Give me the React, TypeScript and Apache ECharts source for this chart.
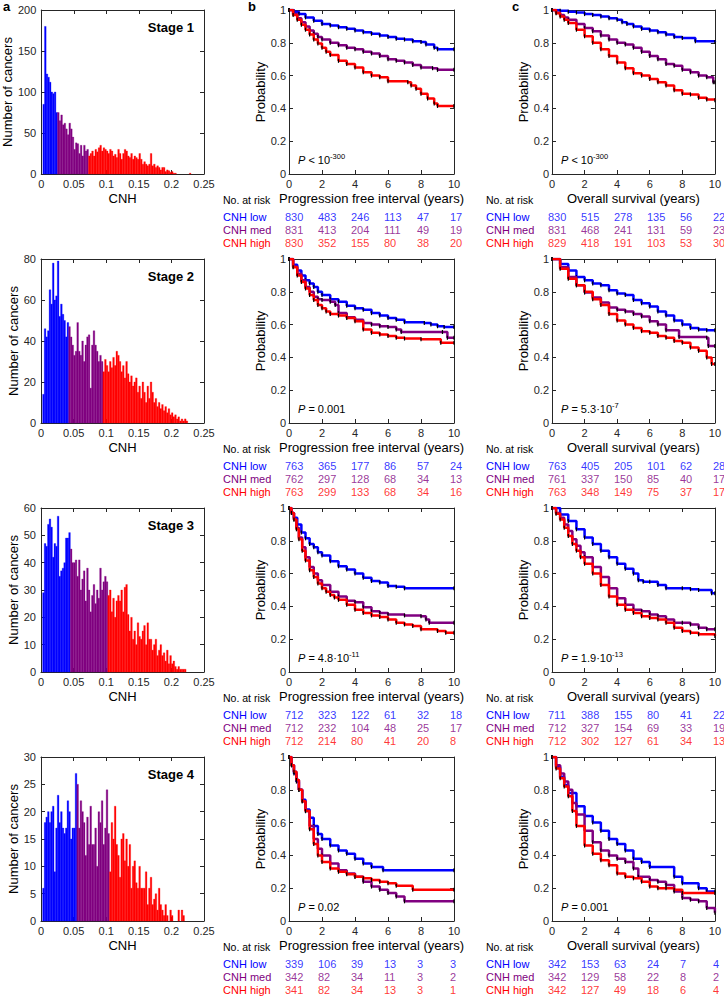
import React, { useEffect, useRef } from 'react';
import * as echarts from 'echarts';

// ---------------- data ----------------
const BIN_WIDTH = 0.0025;
const stageLabels = ['Stage 1', 'Stage 2', 'Stage 3', 'Stage 4'];
const histYMax = [200, 80, 60, 30];
const histYInterval = [50, 20, 10, 5];
const cnhMax = 0.25;
const cnhInterval = 0.05;

const hist1Counts = [
  0, 85, 180, 122, 118, 112, 100, 98, 100, 75,
  75, 65, 72, 60, 62, 55, 48, 62, 55, 45,
  30, 38, 37, 25, 35, 22, 35, 28, 30, 22,
  25, 28, 22, 30, 27, 32, 35, 28, 32, 30,
  28, 25, 30, 28, 22, 24, 20, 30, 25, 18,
  25, 30, 28, 22, 20, 25, 18, 22, 20, 18,
  25, 18, 12, 15, 12, 10, 12, 25, 10, 12,
  8, 10, 8, 5, 8, 8, 3, 5, 4, 2,
  3, 1, 1, 0, 0, 0, 0, 0, 0, 0,
  0, 1,
];
const hist1Cuts = [10, 29];

const hist2Counts = [
  0, 14, 46, 42, 45, 65, 58, 78, 60, 62,
  79, 52, 58, 53, 50, 42, 49, 47, 42, 38,
  33, 35, 49, 35, 33, 40, 30, 38, 42, 43,
  17, 38, 45, 38, 35, 30, 33, 30, 25, 31,
  28, 25, 30, 27, 32, 28, 35, 33, 30, 25,
  28, 22, 30, 24, 20, 23, 18, 20, 22, 15,
  18, 12, 20, 15, 10, 18, 12, 20, 15, 10,
  12, 8, 10, 7, 9, 6, 8, 5, 7, 4,
  5, 3, 4, 2, 3, 1, 2, 1, 2, 1,
];
const hist2Cuts = [17, 38];

const hist3Counts = [
  0, 29, 47, 46, 54, 56, 53, 42, 47, 46,
  57, 35, 37, 38, 40, 49, 49, 51, 45, 40,
  40, 41, 35, 41, 30, 34, 37, 26, 38, 30,
  22, 28, 32, 25, 30, 27, 38, 30, 33, 35,
  33, 28, 30, 22, 27, 20, 26, 28, 26, 30,
  22, 31, 32, 21, 15, 20, 12, 15, 10, 18,
  13, 12, 15, 17, 10, 18, 12, 12, 8, 10,
  12, 6, 8, 10, 6, 7, 4, 8, 3, 6,
  3, 4, 2, 1, 2, 1, 1, 1, 1,
];
const hist3Cuts = [18, 41];

const hist4Counts = [
  0, 6, 18, 19, 20, 18, 20, 21, 9, 17,
  23, 18, 20, 17, 16, 17, 22, 20, 15, 17,
  17, 27, 25, 17, 22, 20, 18, 12, 19, 14,
  21, 14, 14, 17, 10, 20, 18, 22, 14, 17,
  24, 16, 9, 18, 15, 21, 14, 12, 8, 15,
  16, 11, 15, 10, 14, 6, 10, 11, 7, 6,
  10, 6, 6, 6, 9, 3, 6, 8, 3, 4,
  5, 2, 6, 3, 2, 1, 3, 1, 0, 2,
  1, 0, 0, 0, 2, 0, 2, 1,
];
const hist4Cuts = [22, 42];

const histCounts = [hist1Counts, hist2Counts, hist3Counts, hist4Counts];
const histCuts = [hist1Cuts, hist2Cuts, hist3Cuts, hist4Cuts];

// Kaplan-Meier curves: [years, probability]
const pfi1Low = [[0,1],[0.3,0.99],[0.6,0.975],[1,0.955],[1.5,0.935],[2,0.915],[2.5,0.905],[3,0.895],[3.5,0.885],[4,0.875],[4.5,0.865],[5,0.855],[5.5,0.845],[6,0.835],[6.5,0.825],[7,0.82],[7.5,0.81],[8,0.805],[8.3,0.79],[8.8,0.77],[9,0.76],[10,0.76]];
const pfi1Med = [[0,1],[0.25,0.975],[0.5,0.95],[0.75,0.925],[1,0.9],[1.25,0.875],[1.5,0.855],[1.75,0.835],[2,0.82],[2.5,0.8],[3,0.785],[3.5,0.77],[4,0.76],[4.5,0.745],[5,0.735],[5.5,0.72],[6,0.7],[6.5,0.69],[7,0.68],[7.5,0.665],[8,0.65],[8.7,0.645],[9,0.635],[10,0.635]];
const pfi1High = [[0,1],[0.25,0.97],[0.5,0.94],[0.75,0.91],[1,0.88],[1.25,0.85],[1.5,0.82],[1.75,0.795],[2,0.77],[2.25,0.745],[2.5,0.725],[3,0.69],[3.5,0.67],[4,0.65],[4.5,0.62],[5,0.6],[5.5,0.59],[6,0.565],[7.2,0.56],[7.4,0.54],[7.7,0.52],[8,0.49],[8.4,0.46],[8.8,0.43],[9,0.415],[10,0.415]];

const os1Low = [[0,1],[0.5,0.995],[1,0.99],[1.5,0.985],[2,0.975],[2.5,0.97],[3,0.96],[3.5,0.95],[4,0.94],[4.3,0.925],[4.6,0.915],[5,0.9],[5.5,0.885],[6,0.875],[6.5,0.865],[7,0.85],[7.5,0.835],[8,0.83],[8.8,0.81],[10,0.805]];
const os1Med = [[0,1],[0.25,0.985],[0.5,0.97],[0.75,0.955],[1,0.94],[1.5,0.915],[2,0.89],[2.5,0.87],[3,0.845],[3.5,0.82],[4,0.8],[4.5,0.79],[5,0.77],[5.5,0.745],[6,0.72],[6.5,0.7],[7,0.67],[7.5,0.66],[8,0.635],[8.5,0.62],[9,0.6],[9.5,0.59],[9.9,0.56],[10,0.56]];
const os1High = [[0,1],[0.25,0.98],[0.5,0.96],[0.75,0.94],[1,0.92],[1.5,0.88],[2,0.84],[2.5,0.8],[3,0.76],[3.5,0.72],[4,0.68],[4.5,0.645],[5,0.615],[5.5,0.6],[6,0.58],[6.5,0.56],[7,0.54],[7.5,0.51],[8,0.49],[8.5,0.485],[9,0.465],[9.5,0.455],[10,0.45]];

const pfi2Low = [[0,1],[0.25,0.965],[0.5,0.93],[0.75,0.9],[1,0.87],[1.25,0.85],[1.5,0.83],[1.75,0.8],[2,0.78],[2.5,0.755],[3,0.74],[3.5,0.715],[4,0.7],[4.5,0.69],[5,0.67],[5.5,0.655],[6,0.64],[6.5,0.63],[7,0.615],[8.2,0.61],[8.6,0.6],[9,0.59],[9.4,0.585],[10,0.585]];
const pfi2Med = [[0,1],[0.25,0.955],[0.5,0.91],[0.75,0.87],[1,0.83],[1.25,0.8],[1.5,0.77],[1.75,0.755],[2,0.75],[2.5,0.74],[2.8,0.72],[3,0.67],[3.5,0.645],[4,0.63],[4.5,0.61],[5,0.6],[5.5,0.59],[6,0.585],[6.5,0.57],[6.8,0.555],[9.3,0.555],[9.6,0.52],[10,0.52]];
const pfi2High = [[0,1],[0.25,0.95],[0.5,0.9],[0.75,0.86],[1,0.82],[1.25,0.78],[1.5,0.75],[1.75,0.72],[2,0.7],[2.25,0.68],[2.5,0.665],[3,0.655],[3.5,0.64],[4,0.62],[4.5,0.57],[5,0.55],[5.5,0.54],[6,0.53],[6.5,0.52],[7,0.515],[8,0.51],[9.2,0.49],[10,0.49]];

const os2Low = [[0,1],[0.5,0.97],[1,0.93],[1.5,0.89],[2,0.87],[2.5,0.85],[3,0.84],[3.5,0.81],[4,0.79],[4.5,0.78],[5,0.75],[5.5,0.73],[6,0.71],[6.5,0.68],[7,0.655],[7.5,0.625],[8,0.6],[8.5,0.58],[9,0.57],[9.5,0.565],[10,0.565]];
const os2Med = [[0,1],[0.5,0.95],[1,0.89],[1.5,0.84],[2,0.795],[2.5,0.765],[3,0.735],[3.5,0.705],[4,0.69],[4.5,0.68],[5,0.665],[5.5,0.65],[6,0.62],[6.5,0.6],[7,0.565],[7.8,0.525],[9.5,0.52],[9.6,0.47],[10,0.47]];
const os2High = [[0,1],[0.5,0.94],[1,0.88],[1.5,0.84],[2,0.8],[2.5,0.755],[3,0.72],[3.5,0.665],[4,0.625],[4.5,0.6],[5,0.58],[5.5,0.56],[6,0.55],[6.5,0.53],[7,0.52],[7.5,0.5],[8,0.49],[8.5,0.46],[9,0.44],[9.5,0.4],[9.8,0.36],[10,0.36]];

const pfi3Low = [[0,1],[0.15,0.97],[0.3,0.94],[0.5,0.9],[0.75,0.85],[1,0.815],[1.25,0.78],[1.5,0.76],[1.75,0.73],[2,0.71],[2.5,0.675],[3,0.645],[3.5,0.625],[4,0.6],[4.5,0.575],[5,0.555],[5.5,0.545],[6,0.525],[6.5,0.52],[7,0.51],[10,0.51]];
const pfi3Med = [[0,1],[0.15,0.97],[0.3,0.93],[0.45,0.88],[0.6,0.82],[0.8,0.76],[1,0.7],[1.25,0.64],[1.5,0.6],[1.75,0.56],[2,0.53],[2.5,0.49],[3,0.46],[3.5,0.435],[4,0.425],[4.5,0.395],[5,0.37],[5.5,0.36],[6,0.35],[7,0.345],[8,0.34],[8.3,0.32],[8.5,0.3],[10,0.3]];
const pfi3High = [[0,1],[0.15,0.97],[0.3,0.93],[0.45,0.87],[0.6,0.81],[0.8,0.74],[1,0.68],[1.25,0.62],[1.5,0.58],[1.75,0.54],[2,0.51],[2.25,0.49],[2.5,0.47],[2.75,0.455],[3,0.44],[3.5,0.41],[4,0.38],[4.5,0.36],[5,0.345],[5.5,0.335],[6,0.32],[6.5,0.3],[7,0.29],[7.5,0.28],[8,0.26],[9,0.25],[9.5,0.24],[10,0.24]];

const os3Low = [[0,1],[0.5,0.96],[1,0.92],[1.5,0.87],[2,0.82],[2.5,0.78],[3,0.74],[3.5,0.7],[4,0.66],[4.5,0.63],[5,0.6],[5.3,0.56],[5.6,0.55],[6,0.55],[6.5,0.53],[7,0.51],[8,0.51],[8.5,0.505],[9,0.5],[9.8,0.48],[10,0.48]];
const os3Med = [[0,1],[0.25,0.97],[0.5,0.94],[0.75,0.9],[1,0.86],[1.25,0.81],[1.5,0.77],[1.75,0.73],[2,0.7],[2.5,0.64],[3,0.58],[3.5,0.51],[4,0.45],[4.5,0.41],[5,0.38],[5.5,0.37],[6,0.35],[6.5,0.34],[7,0.32],[7.5,0.3],[8,0.3],[8.5,0.29],[9,0.27],[9.5,0.26],[10,0.26]];
const os3High = [[0,1],[0.25,0.965],[0.5,0.93],[0.75,0.88],[1,0.83],[1.25,0.78],[1.5,0.74],[1.75,0.7],[2,0.66],[2.5,0.6],[3,0.53],[3.5,0.46],[4,0.41],[4.5,0.38],[5,0.36],[5.5,0.34],[6,0.33],[6.5,0.32],[7,0.3],[7.5,0.27],[8,0.25],[8.5,0.24],[9,0.23],[10,0.22]];

const pfi4Low = [[0,1],[0.15,0.95],[0.3,0.9],[0.45,0.85],[0.6,0.8],[0.8,0.74],[1,0.68],[1.25,0.63],[1.5,0.58],[1.75,0.53],[2,0.5],[2.5,0.46],[3,0.43],[3.5,0.41],[4,0.38],[4.5,0.35],[5,0.33],[5.7,0.31],[10,0.31]];
const pfi4Med = [[0,1],[0.15,0.95],[0.3,0.91],[0.45,0.86],[0.6,0.8],[0.8,0.73],[1,0.67],[1.25,0.58],[1.5,0.5],[1.75,0.44],[2,0.4],[2.5,0.35],[3,0.31],[3.5,0.29],[4,0.27],[4.5,0.24],[5,0.21],[5.5,0.19],[6,0.17],[6.5,0.15],[7,0.12],[10,0.12]];
const pfi4High = [[0,1],[0.15,0.95],[0.3,0.91],[0.45,0.86],[0.6,0.8],[0.8,0.73],[1,0.67],[1.25,0.56],[1.5,0.47],[1.75,0.4],[2,0.36],[2.5,0.32],[3,0.3],[3.5,0.285],[4,0.27],[4.5,0.26],[5,0.25],[5.5,0.24],[6,0.23],[6.5,0.215],[7.5,0.19],[10,0.19]];

const os4Low = [[0,1],[0.25,0.94],[0.5,0.88],[0.75,0.83],[1,0.78],[1.5,0.7],[2,0.64],[2.5,0.6],[3,0.55],[3.5,0.5],[4,0.47],[4.5,0.43],[5,0.38],[5.5,0.36],[6,0.33],[7.5,0.27],[8,0.23],[9,0.2],[9.5,0.18],[10,0.18]];
const os4Med = [[0,1],[0.25,0.95],[0.5,0.9],[0.75,0.85],[1,0.8],[1.25,0.72],[1.5,0.65],[2,0.55],[2.5,0.48],[3,0.43],[3.5,0.4],[4,0.38],[4.5,0.36],[5,0.32],[5.3,0.27],[6,0.25],[6.5,0.24],[7,0.22],[7.5,0.18],[8,0.14],[8.5,0.13],[9,0.12],[9.5,0.08],[10,0.05]];
const os4High = [[0,1],[0.25,0.93],[0.5,0.87],[0.75,0.82],[1,0.76],[1.25,0.67],[1.5,0.58],[2,0.46],[2.5,0.41],[3,0.37],[3.5,0.34],[4,0.29],[4.5,0.27],[5,0.26],[5.5,0.24],[6,0.21],[6.5,0.2],[7,0.2],[7.5,0.19],[8,0.17],[10,0.17]];

const pfiCurves = [
  [pfi1Low, pfi1Med, pfi1High],
  [pfi2Low, pfi2Med, pfi2High],
  [pfi3Low, pfi3Med, pfi3High],
  [pfi4Low, pfi4Med, pfi4High],
];
const osCurves = [
  [os1Low, os1Med, os1High],
  [os2Low, os2Med, os2High],
  [os3Low, os3Med, os3High],
  [os4Low, os4Med, os4High],
];

const groupNames = ['CNH low', 'CNH med', 'CNH high'];
const riskTimes = [0, 2, 4, 6, 8, 10];
const pfiRisk1 = [[830, 483, 246, 113, 47, 17], [831, 413, 204, 111, 49, 19], [830, 352, 155, 80, 38, 20]];
const pfiRisk2 = [[763, 365, 177, 86, 57, 24], [762, 297, 128, 68, 34, 13], [763, 299, 133, 68, 34, 16]];
const pfiRisk3 = [[712, 323, 122, 61, 32, 18], [712, 232, 104, 48, 25, 17], [712, 214, 80, 41, 20, 8]];
const pfiRisk4 = [[339, 106, 39, 13, 3, 3], [342, 82, 34, 11, 3, 2], [341, 82, 34, 13, 3, 1]];
const osRisk1 = [[830, 515, 278, 135, 56, 22], [831, 468, 241, 131, 59, 23], [829, 418, 191, 103, 53, 30]];
const osRisk2 = [[763, 405, 205, 101, 62, 28], [761, 337, 150, 85, 40, 17], [763, 348, 149, 75, 37, 17]];
const osRisk3 = [[711, 388, 155, 80, 41, 22], [712, 327, 154, 69, 33, 19], [712, 302, 127, 61, 34, 13]];
const osRisk4 = [[342, 153, 63, 24, 7, 4], [342, 129, 58, 22, 8, 2], [342, 127, 49, 18, 6, 4]];
const pfiRisk = [pfiRisk1, pfiRisk2, pfiRisk3, pfiRisk4];
const osRisk = [osRisk1, osRisk2, osRisk3, osRisk4];

const pfiPValues = ['< 10{s|-300}', '= 0.001', '= 4.8·10{s|-11}', '= 0.02'];
const osPValues = ['< 10{s|-300}', '= 5.3·10{s|-7}', '= 1.9·10{s|-13}', '= 0.001'];

// ---------------- styling / layout ----------------
const FONT = '"Liberation Sans", Arial, Helvetica, sans-serif';
const BLUE = '#0000FF';
const PURPLE = '#800080';
const RED = '#FF0000';
const GROUP_COLORS = [BLUE, PURPLE, RED];
const AXIS_COLOR = '#262626';

const ROW_TOP = [10, 259, 508, 757];
const PLOT_H = 164;
const HIST_LEFT = 41;
const HIST_W = 163;
const PFI_LEFT = 289;
const OS_LEFT = 552;
const KM_W = 165;

function buildOption() {
  const grid: any[] = [];
  const xAxis: any[] = [];
  const yAxis: any[] = [];
  const series: any[] = [];
  const elements: any[] = [];

  const tick = { show: true, inside: true, length: 4, lineStyle: { color: AXIS_COLOR, width: 1 } };
  const line = { show: true, onZero: false, lineStyle: { color: AXIS_COLOR, width: 1 } };

  function addBox(left: number, top: number, width: number, height: number, xc: any, yc: any) {
    const gi = grid.length;
    grid.push({ left, top, width, height });
    const base = { gridIndex: gi, type: 'value', splitLine: { show: false }, axisLine: line, axisTick: tick };
    const xi = xAxis.length;
    xAxis.push({
      ...base, position: 'bottom', min: xc.min, max: xc.max, interval: xc.interval,
      axisLabel: { margin: 4, fontSize: 11, color: AXIS_COLOR, fontFamily: FONT, formatter: xc.fmt },
      name: xc.name, nameLocation: 'middle', nameGap: xc.nameGap,
      nameTextStyle: { fontSize: 13, color: '#000', fontFamily: FONT },
    });
    xAxis.push({ ...base, position: 'top', min: xc.min, max: xc.max, interval: xc.interval, axisLabel: { show: false } });
    const yi = yAxis.length;
    yAxis.push({
      ...base, position: 'left', min: yc.min, max: yc.max, interval: yc.interval,
      axisLabel: { margin: yc.labelMargin, fontSize: 11, color: AXIS_COLOR, fontFamily: FONT, formatter: yc.fmt },
      name: yc.name, nameLocation: 'middle', nameGap: yc.nameGap,
      nameTextStyle: { fontSize: 13, color: '#000', fontFamily: FONT },
    });
    yAxis.push({ ...base, position: 'right', min: yc.min, max: yc.max, interval: yc.interval, axisLabel: { show: false } });
    return { xi, yi };
  }

  const fmt2 = (v: number) => String(Math.round(v * 100) / 100);
  const fmt1 = (v: number) => String(Math.round(v * 10) / 10);

  // histograms
  for (let s = 0; s < 4; s++) {
    const top = ROW_TOP[s];
    const { xi, yi } = addBox(HIST_LEFT, top, HIST_W, PLOT_H,
      { min: 0, max: cnhMax, interval: cnhInterval, fmt: fmt2, name: 'CNH', nameGap: 18 },
      { min: 0, max: histYMax[s], interval: histYInterval[s], fmt: (v: number) => String(v), name: 'Number of cancers', nameGap: 21, labelMargin: 5 });
    const cuts = histCuts[s];
    const data = histCounts[s]
      .map((c, i) => [i * BIN_WIDTH, c, i < cuts[0] ? 0 : i < cuts[1] ? 1 : 2])
      .filter((d) => d[1] > 0);
    series.push({
      type: 'custom', xAxisIndex: xi, yAxisIndex: yi, silent: true, data,
      encode: { x: 0, y: 1 },
      renderItem: (_p: any, api: any) => {
        const x0 = api.value(0);
        const c = api.value(1);
        const col = GROUP_COLORS[api.value(2)];
        const p0 = api.coord([x0, 0]);
        const p1 = api.coord([x0 + BIN_WIDTH, c]);
        return {
          type: 'rect',
          shape: { x: p0[0], y: p1[1], width: p1[0] - p0[0], height: p0[1] - p1[1] },
          style: { fill: col, stroke: col, lineWidth: 0.3 },
        };
      },
    });
    elements.push({
      type: 'text', x: HIST_LEFT + HIST_W - 10, y: top + 17.5, silent: true,
      style: { text: stageLabels[s], fontSize: 13, fontWeight: 'bold', fontFamily: FONT, fill: '#000', align: 'right', verticalAlign: 'middle' },
    });
  }

  // KM panels
  const panels = [
    { left: PFI_LEFT, curves: pfiCurves, risk: pfiRisk, pv: pfiPValues, name: 'Progression free interval (years)' },
    { left: OS_LEFT, curves: osCurves, risk: osRisk, pv: osPValues, name: 'Overall survival (years)' },
  ];
  panels.forEach((pn) => {
    for (let s = 0; s < 4; s++) {
      const top = ROW_TOP[s];
      const { xi, yi } = addBox(pn.left, top, KM_W, PLOT_H,
        { min: 0, max: 10, interval: 2, fmt: (v: number) => String(v), name: pn.name, nameGap: 18 },
        { min: 0, max: 1, interval: 0.2, fmt: fmt1, name: 'Probability', nameGap: 18, labelMargin: 3 });
      pn.curves[s].forEach((pts, g) => {
        series.push({
          type: 'line', xAxisIndex: xi, yAxisIndex: yi, step: 'end', data: pts, silent: true,
          showSymbol: true, symbol: 'rect', symbolSize: [1.2, 4],
          itemStyle: { color: '#000' }, lineStyle: { color: GROUP_COLORS[g], width: 2.5 }, z: 2 + g,
        });
      });
      // risk table
      const rgi = grid.length;
      grid.push({ left: pn.left, top: top + 200.5, width: KM_W, height: 39 });
      const rxi = xAxis.length;
      xAxis.push({ gridIndex: rgi, type: 'value', min: 0, max: 10, show: false });
      const ryi = yAxis.length;
      yAxis.push({
        gridIndex: rgi, type: 'category', data: groupNames, inverse: true,
        axisLine: { show: false }, axisTick: { show: false }, splitLine: { show: false },
        axisLabel: { interval: 0, hideOverlap: false, margin: 66, align: 'left', fontSize: 11, fontFamily: FONT, color: (_v: any, i: number) => GROUP_COLORS[i] },
      });
      series.push({
        type: 'scatter', xAxisIndex: rxi, yAxisIndex: ryi, symbolSize: 0, silent: true,
        itemStyle: { color: 'transparent' },
        data: pn.risk[s].flatMap((row, g) => row.map((n, k) => ({ value: [riskTimes[k], g, n], label: { color: GROUP_COLORS[g] } }))),
        label: { show: true, position: 'inside', align: 'left', offset: [-4, 0], fontSize: 11, fontFamily: FONT, formatter: (p: any) => String(p.value[2]) },
      });
      elements.push({
        type: 'text', x: pn.left - 66, y: top + 190, silent: true,
        style: { text: 'No. at risk', fontSize: 10.5, fontFamily: FONT, fill: '#000', align: 'left', verticalAlign: 'middle' },
      });
      elements.push({
        type: 'text', x: pn.left + 9, y: top + PLOT_H - 14, silent: true,
        style: {
          text: '{i|P} ' + pn.pv[s], fontSize: 11, fontFamily: FONT, fill: '#000', align: 'left', verticalAlign: 'middle', lineHeight: 16,
          rich: {
            i: { fontStyle: 'italic', fontSize: 11, fontFamily: FONT, lineHeight: 16 },
            s: { fontSize: 7.5, fontFamily: FONT, verticalAlign: 'top', lineHeight: 9 },
          },
        },
      });
    }
  });

  // panel letters
  [['a', 3], ['b', 248], ['c', 512]].forEach(([t, x]) => {
    elements.push({
      type: 'text', x, y: 0, silent: true,
      style: { text: t, fontSize: 13, fontWeight: 'bold', fontFamily: FONT, fill: '#000', align: 'left', verticalAlign: 'top' },
    });
  });

  return {
    animation: false,
    backgroundColor: '#fff',
    grid, xAxis, yAxis, series,
    graphic: { elements },
  };
}

export default function App() {
  const ref = useRef<HTMLDivElement>(null);
  useEffect(() => {
    if (!ref.current) return;
    const chart = echarts.init(ref.current, undefined, { renderer: 'svg' });
    chart.setOption(buildOption() as any);
    return () => chart.dispose();
  }, []);
  return <div ref={ref} style={{ position: 'absolute', left: 0, top: 0, width: 724, height: 996, background: '#fff' }} />;
}
